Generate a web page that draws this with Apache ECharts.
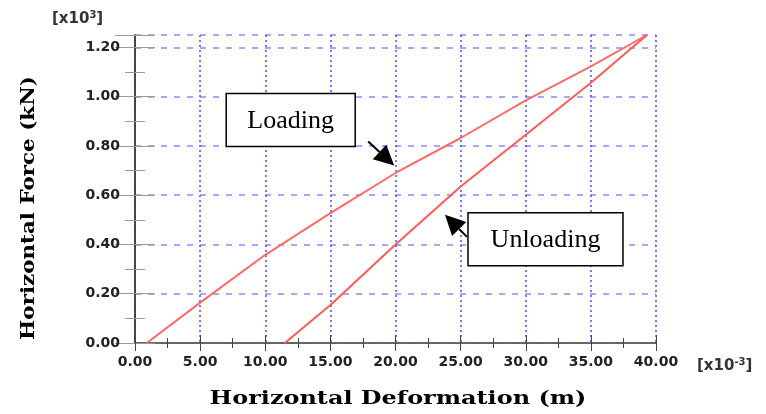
<!DOCTYPE html>
<html><head><meta charset="utf-8">
<script src="https://cdn.jsdelivr.net/npm/echarts@6/dist/echarts.min.js"></script>
<style>html,body{margin:0;padding:0;background:#fff}#c{width:766px;height:414px}</style>
</head><body><div id="c"></div>
<script>
// Data (x in 1e-3 m, y in 1e3 kN)
const loadingX = [0.9, 5, 10, 15, 20, 25, 30, 35, 39.3];
const loadingY = [0, 0.164, 0.358, 0.527, 0.69, 0.832, 0.985, 1.123, 1.25];
const unloadingX = [11.5, 15, 20, 25, 30, 35, 39.3];
const unloadingY = [0, 0.154, 0.40, 0.635, 0.845, 1.056, 1.25];
const xTitle = 'Horizontal Deformation (m)';
const yTitle = 'Horizontal Force (kN)';
const xUnit = '[x10{s|-3}]';
const yUnit = '[x10{s|3}]';
const loadingTip = [19.9, 0.72];
const unloadingTip = [23.8, 0.52];

const chart = echarts.init(document.getElementById('c'), null, {renderer: 'canvas'});
const lblFont = {fontFamily: 'DejaVu Sans', fontWeight: 'bold', fontSize: 14, color: '#222'};
const frame = '#666';

function pts(xs, ys) { return xs.map((x, i) => [x, ys[i]]); }

chart.setOption({
  animation: false,
  backgroundColor: '#fff',
  grid: {left: 135, right: 110, top: 35, bottom: 71},
  xAxis: [{
    type: 'value', min: 0, max: 40, interval: 5, position: 'bottom',
    axisLine: {show: true, onZero: false, lineStyle: {color: '#444', width: 1.5}},
    axisTick: {show: true, inside: true, length: 8, lineStyle: {color: '#444'}},
    minorTick: {show: true, splitNumber: 2, length: 5, lineStyle: {color: '#444'}},
    axisLabel: Object.assign({margin: 12, formatter: v => v.toFixed(2)}, lblFont),
    splitLine: {show: true, lineStyle: {color: '#4a4aff', type: [2, 3], width: 1.5}}
  }, {
    type: 'value', min: 0, max: 40, interval: 5, position: 'top',
    axisLine: {show: true, lineStyle: {color: frame, width: 1.5}},
    axisTick: {show: true, inside: true, length: 8, lineStyle: {color: '#444'}},
    minorTick: {show: true, splitNumber: 2, length: 5, lineStyle: {color: '#444'}},
    axisLabel: {show: false}, splitLine: {show: false}
  }],
  yAxis: [{
    type: 'value', min: 0, max: 1.25, interval: 0.2, position: 'left',
    axisLine: {show: true, onZero: false, lineStyle: {color: frame, width: 1.5}},
    axisTick: {show: true, inside: true, length: 20, lineStyle: {color: '#999'}},
    minorTick: {show: true, splitNumber: 2, length: 10, lineStyle: {color: '#999'}},
    axisLabel: Object.assign({margin: 15, showMaxLabel: false, formatter: v => v.toFixed(2)}, lblFont),
    splitLine: {show: true, lineStyle: {color: '#8a8aff', type: [6, 7], width: 1.5}}
  }, {
    type: 'value', min: 0, max: 1.25, interval: 0.2, position: 'right',
    axisLine: {show: true, lineStyle: {color: '#333', width: 1.5}},
    axisTick: {show: true, inside: true, length: 20, lineStyle: {color: '#999'}},
    minorTick: {show: true, splitNumber: 2, length: 10, lineStyle: {color: '#999'}},
    axisLabel: {show: false}, splitLine: {show: false}
  }],
  series: [{
    name: 'Loading', type: 'line', data: pts(loadingX, loadingY), showSymbol: false,
    lineStyle: {color: '#ff6a6a', width: 2}, z: 5
  }, {
    name: 'Unloading', type: 'line', data: pts(unloadingX, unloadingY), showSymbol: false,
    lineStyle: {color: '#ff5a5a', width: 2}, z: 5
  }]
});

function arrow(start, tip, headLen, headW) {
  const dx = tip[0] - start[0], dy = tip[1] - start[1];
  const L = Math.hypot(dx, dy), ux = dx / L, uy = dy / L;
  const bx = tip[0] - ux * headLen, by = tip[1] - uy * headLen;
  return [
    {type: 'line', shape: {x1: start[0], y1: start[1], x2: bx, y2: by}, style: {stroke: '#000', lineWidth: 2}, z: 20},
    {type: 'polygon', shape: {points: [tip, [bx - uy * headW, by + ux * headW], [bx + uy * headW, by - ux * headW]]}, style: {fill: '#000'}, z: 20}
  ];
}
function box(x, y, w, h, text) {
  return [
    {type: 'rect', shape: {x: x, y: y, width: w, height: h}, style: {fill: '#fff', stroke: '#000', lineWidth: 1.5}, z: 20},
    {type: 'text', x: x + w / 2, y: y + h / 2 + 1, style: {text: text, fill: '#000', font: '26px "Liberation Serif"', align: 'center', verticalAlign: 'middle'}, z: 21}
  ];
}

const lt = chart.convertToPixel({xAxisIndex: 0, yAxisIndex: 0}, loadingTip);
const ut = chart.convertToPixel({xAxisIndex: 0, yAxisIndex: 0}, unloadingTip);
const supStyle = {s: {fontSize: 10, fontWeight: 'bold', fontFamily: 'DejaVu Sans', fill: '#333', verticalAlign: 'top', padding: [0, 0, 8, 0]}};

const g = [];
g.push(...box(lt[0] - 168, lt[1] - 72, 129, 53, 'Loading'));
g.push(...arrow([lt[0] - 26, lt[1] - 24], lt, 20, 10));
g.push(...box(ut[0] + 23, ut[1] - 2, 155, 53, 'Unloading'));
g.push(...arrow([ut[0] + 22, ut[1] + 22], ut, 20, 10));
g.push({type: 'text', x: 398, y: 399, scaleX: 1.33, style: {text: xTitle, fill: '#000', font: 'bold 18px "DejaVu Serif"', align: 'center', verticalAlign: 'middle'}});
g.push({type: 'text', x: 29, y: 208, rotation: Math.PI / 2, scaleX: 1.19, style: {text: yTitle, fill: '#000', font: 'bold 18px "DejaVu Serif"', align: 'center', verticalAlign: 'middle'}});
g.push({type: 'text', x: 697, y: 366, style: {text: xUnit, fill: '#333', font: 'bold 15px "DejaVu Sans"', align: 'left', verticalAlign: 'middle', rich: supStyle}});
g.push({type: 'text', x: 52, y: 19, style: {text: yUnit, fill: '#333', font: 'bold 15px "DejaVu Sans"', align: 'left', verticalAlign: 'middle', rich: supStyle}});
chart.setOption({graphic: g});
</script>
</body></html>
